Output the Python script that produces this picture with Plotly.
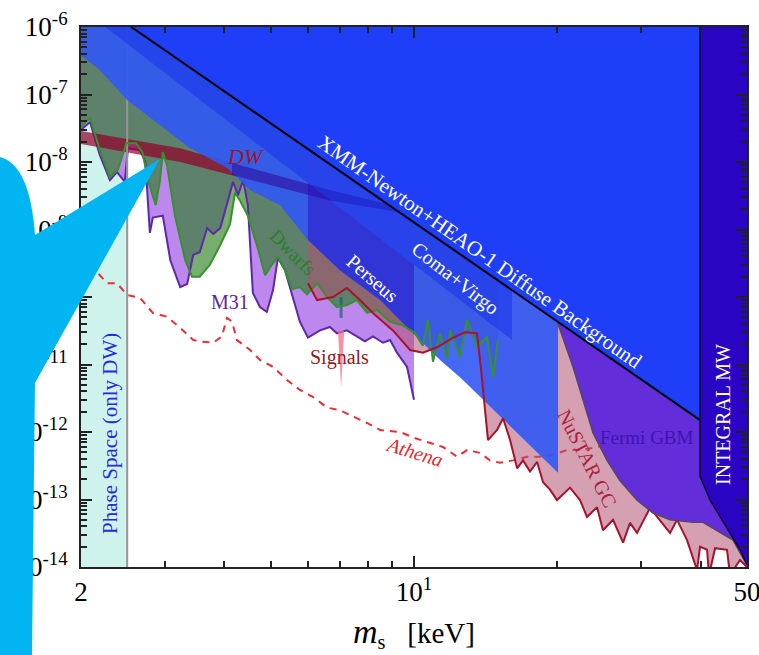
import math
import plotly.graph_objects as go

# ---------------- data: sterile-neutrino mass m_s [keV] vs mixing sin^2(2θ) ----------------
phase_space_edge = 2.5

athena_m = [2.0, 2.16, 2.27, 2.38, 2.50, 2.66, 2.83, 3.03, 3.23, 3.44, 3.55, 3.79, 3.95, 4.05, 4.15,
            4.25, 4.53, 4.75, 5.06, 5.41, 5.76, 6.14, 6.57, 6.99, 7.45, 7.97, 8.49, 9.35, 10.0, 10.8,
            11.5, 12.31, 12.92, 13.76, 14.43, 15.15, 16.14, 17.27, 18.39, 19.58, 20.95, 22.31, 23.76, 25.17]
athena_mix = [4.2e-10, 2.3e-10, 1.6e-10, 1.6e-10, 1.07e-10, 9.7e-11, 5.8e-11, 5.1e-11, 3.5e-11, 2.3e-11,
              2.2e-11, 2.1e-11, 2.6e-11, 4.9e-11, 4.3e-11, 2.3e-11, 1.64e-11, 1.17e-11, 9.2e-12, 5.9e-12,
              4.2e-12, 3.3e-12, 2.3e-12, 2.1e-12, 1.7e-12, 1.36e-12, 1.07e-12, 1.0e-12, 8.2e-13, 6.9e-13,
              6.0e-13, 4.3e-13, 5.4e-13, 4.9e-13, 3.8e-13, 3.5e-13, 3.8e-13, 4.3e-13, 4.3e-13, 4.6e-13,
              5.4e-13, 5.4e-13, 5.8e-13, 6.4e-13]

m31_m = [2.0, 2.09, 2.19, 2.30, 2.38, 2.47, 2.51, 2.66, 2.73, 2.79, 2.83, 2.97, 3.08, 3.23, 3.34,
         3.44, 3.55, 3.68, 3.79, 3.92, 4.07, 4.17, 4.27, 4.38, 4.48, 4.59, 4.75, 4.91, 5.06, 5.18,
         5.36, 5.55, 5.76, 5.99, 6.35, 6.66, 6.89, 7.23, 7.59, 7.89, 8.20, 8.61, 8.91, 9.21, 9.67, 10.0]
m31_mix = [3.0e-8, 3.9e-8, 1.27e-8, 5.4e-9, 7.1e-9, 5.1e-9, 1.6e-8, 1.5e-8, 1.0e-8, 8.9e-10,
           1.5e-9, 1.6e-9, 3.5e-10, 1.4e-10, 1.56e-10, 4.2e-10, 4.6e-10, 1.05e-9, 8.6e-10, 1.05e-9,
           2.7e-9, 5.1e-9, 3.2e-9, 5.4e-9, 2.3e-9, 1.15e-10, 7.1e-11, 6.0e-11, 1.27e-10, 3.8e-10,
           2.5e-10, 1.07e-10, 4.3e-11, 2.5e-11, 3.2e-11, 3.6e-11, 2.9e-11, 3.2e-11, 2.6e-11, 2.2e-11,
           2.6e-11, 2.1e-11, 2.3e-11, 1.5e-11, 9.2e-12, 3.0e-12]

dwarfs_m = [2.0, 2.09, 2.19, 2.30, 2.39, 2.49, 2.61, 2.69, 2.77, 2.87, 2.93, 2.97, 3.03, 3.15, 3.31,
            3.42, 3.55, 3.73, 3.92, 4.11, 4.21, 4.31, 4.48, 4.71, 4.87, 5.03, 5.18, 5.36, 5.55, 5.76,
            5.96, 6.26, 6.57, 6.89, 7.23, 7.59, 7.97, 8.36, 8.91, 9.48, 10.05, 10.44, 10.70, 10.96, 11.34,
            11.73, 11.90, 12.49, 12.92, 13.56, 14.23, 14.65, 15.0]
dwarfs_mix = [3.3e-8, 4.5e-8, 1.5e-8, 6.0e-9, 7.6e-9, 1.9e-8, 1.9e-8, 1.4e-8, 5.1e-9, 2.3e-9,
              5.4e-9, 1.4e-8, 9.0e-9, 1.6e-9, 3.5e-10, 2.0e-10, 2.0e-10, 3.0e-10, 5.9e-10, 1.2e-9,
              3.5e-9, 2.7e-9, 1.6e-9, 5.0e-10, 2.1e-10, 3.0e-10, 3.9e-10, 2.5e-10, 1.3e-10, 1.4e-10,
              1.1e-10, 1.6e-10, 1.0e-10, 7.1e-11, 7.6e-11, 9.0e-11, 5.8e-11, 6.4e-11, 4.3e-11, 3.8e-11,
              2.9e-11, 1.9e-11, 4.6e-11, 1.1e-11, 2.9e-11, 1.2e-11, 3.2e-11, 1.3e-11, 4.6e-11, 1.8e-11,
              2.6e-11, 6.5e-12, 2.3e-11]

nustar_m = [5.99, 6.26, 6.76, 7.23, 7.70, 8.20, 9.03, 9.81, 10.44, 11.18, 12.08, 12.80, 13.56, 13.83,
            14.30, 14.94, 15.38, 15.91, 16.46, 16.94, 17.52, 18.13, 18.66, 19.30, 19.96, 21.26, 22.31,
            23.08, 24.22, 24.93, 26.17, 27.47, 28.41, 29.39, 31.29, 32.84, 34.47, 35.66, 37.42, 39.27,
            39.85, 41.22, 41.62, 42.85, 45.40, 46.06, 48.34, 50.0]
nustar_mix = [1.6e-10, 9.0e-11, 1.0e-10, 1.36e-10, 9.0e-11, 5.8e-11, 3.2e-11, 1.64e-11, 1.5e-11, 1.8e-11,
              2.5e-11, 3.0e-11, 2.9e-11, 8.3e-12, 7.6e-13, 1.07e-12, 1.6e-12, 7.6e-13, 2.9e-13, 3.8e-13,
              2.6e-13, 3.6e-13, 1.8e-13, 1.4e-13, 9.8e-14, 1.5e-13, 9.8e-14, 5.5e-14, 7.7e-14, 3.5e-14,
              5.0e-14, 2.3e-14, 4.5e-14, 3.2e-14, 7.5e-14, 5.0e-14, 3.2e-14, 5.0e-14, 2.5e-14, 9.0e-15,
              2.0e-14, 1.8e-14, 7.6e-15, 1.9e-14, 1.8e-14, 7.6e-15, 1.27e-14, 1.0e-14]

# Dodelson-Widrow production band
dw_m = [2.0, 3.23, 4.15, 6.66, 10.3]
dw_upper = [2.88e-8, 1.6e-8, 9.7e-9, 3.85e-9, 1.8e-9]
dw_lower = [1.85e-8, 1.0e-8, 6.4e-9, 2.7e-9, 1.6e-9]

# stacked X-ray bound (unlabelled light-blue region)
stacked_m = [2.0, 2.19, 2.50, 2.93, 3.39, 4.05, 4.53, 5.23, 5.99, 6.99, 8.49, 9.95, 11.34, 12.49, 20.06]
stacked_mix = [3.8e-7, 2.3e-7, 8.3e-8, 3.5e-8, 1.6e-8, 8.2e-9, 3.85e-9, 2.3e-9, 7.0e-10, 2.5e-10,
               9.0e-11, 2.9e-11, 1.17e-11, 6.5e-12, 2.5e-13]

xmm_m = [2.55, 39.85]
xmm_mix = [1.0e-6, 1.5e-12]

coma_virgo_m = [2.25, 16.06]
coma_virgo_lower = [1.0e-6, 2.3e-11]

perseus_m = [5.99, 10.0, 10.0, 8.49, 6.99, 5.99]
perseus_mix = [4.9e-9, 3.0e-10, 2.8e-11, 9.0e-11, 2.5e-10, 7.0e-10]

fermi_m = [19.96, 20.75, 21.57, 22.63, 23.76, 25.42, 27.07, 29.39, 31.75, 34.47, 38.52, 40.44, 43.26, 46.73, 50.0]
fermi_mix = [4.4e-11, 1.94e-11, 9.2e-12, 3.0e-12, 9.7e-13, 3.8e-13, 1.9e-13, 9.8e-14, 6.3e-14, 5.0e-14,
             4.6e-14, 4.6e-14, 3.5e-14, 2.5e-14, 1.07e-14]

integral_m = [39.85, 39.85, 41.82, 43.89, 46.06, 48.34, 50.0]
integral_mix = [1.0e-6, 2.2e-13, 9.8e-14, 5.5e-14, 3.2e-14, 1.8e-14, 1.07e-14]

signal_m = 7.03
signal_mix = [3.2e-11, 4.5e-12]
signal_core = [1.0e-10, 4.9e-11]

x_min, x_max = 2.0, 50.0
y_min, y_max = 1e-14, 1e-6

SERIF = "Liberation Serif"

fig = go.Figure()


def region(xs, ys, fill, line_color=None, line_width=0):
    fig.add_trace(go.Scatter(
        x=xs, y=ys, mode="lines", fill="toself", fillcolor=fill,
        line=dict(color=line_color or "rgba(0,0,0,0)", width=line_width),
        hoverinfo="skip", showlegend=False))


def curve(xs, ys, color, width=2, dash=None):
    fig.add_trace(go.Scatter(
        x=xs, y=ys, mode="lines", line=dict(color=color, width=width, dash=dash),
        hoverinfo="skip", showlegend=False))


# phase-space (Tremaine-Gunn) exclusion
region([x_min, phase_space_edge, phase_space_edge, x_min], [y_min, y_min, y_max, y_max],
       "rgb(206,242,236)")

# Athena sensitivity
curve(athena_m, athena_mix, "rgb(236,45,55)", 2, "7px,6px")

# M31, dwarfs and NuSTAR exclusions (filled above each bound)
region(m31_m + [m31_m[-1], x_min], m31_mix + [y_max, y_max], "rgb(188,136,238)")
region(dwarfs_m + [dwarfs_m[-1], x_min], dwarfs_mix + [y_max, y_max], "rgba(35,125,25,0.62)")
region(nustar_m + [x_max, nustar_m[0]], nustar_mix + [y_max, y_max], "rgba(177,82,115,0.55)")
curve(m31_m, m31_mix, "rgb(95,40,170)", 2)

# 3.5 keV line signals
sig_x = [signal_m * 0.985, signal_m * 1.015, signal_m]
sig_y = [signal_mix[0], signal_mix[0], signal_mix[1]]
region(sig_x, sig_y, "rgba(240,110,140,0.75)")
curve([signal_m, signal_m], signal_core, "rgba(30,95,115,0.7)", 3)

# DW band
region(dw_m + dw_m[::-1], dw_upper + dw_lower[::-1], "rgba(150,0,40,0.7)")

# phase-space edge
curve([phase_space_edge, phase_space_edge], [y_min, y_max], "rgb(150,150,150)", 2)

# stacked X-ray region
region(stacked_m + [stacked_m[-1], x_min], stacked_mix + [y_max, y_max], "rgba(49,88,244,0.9)")

# DW band seen through the blue region
region(dw_m[2:] + dw_m[2:][::-1], dw_upper[2:] + dw_lower[2:][::-1], "rgba(40,0,140,0.45)")

# Coma+Virgo
region([coma_virgo_m[0], coma_virgo_m[1], coma_virgo_m[1]],
       [coma_virgo_lower[0], y_max, coma_virgo_lower[1]], "rgba(20,45,235,0.5)")

# Perseus
region(perseus_m, perseus_mix, "rgba(40,0,190,0.4)")

# dwarfs and NuSTAR bound lines drawn on top
curve(dwarfs_m, dwarfs_mix, "rgb(55,145,45)", 2)
curve(nustar_m, nustar_mix, "rgb(165,20,45)", 2)

# Fermi GBM
region(fermi_m + [x_max, fermi_m[0]], fermi_mix + [y_max, y_max], "rgb(100,45,218)")
curve(fermi_m, fermi_mix, "rgb(85,70,100)", 1.5)

# XMM-Newton + HEAO-1 diffuse background
region([xmm_m[0], xmm_m[1], xmm_m[1]], [xmm_mix[0], y_max, xmm_mix[1]], "rgb(30,62,248)")
curve(xmm_m, xmm_mix, "black", 2)

# INTEGRAL MW
region(integral_m + [x_max], integral_mix + [y_max], "rgb(42,5,195)")
curve(integral_m, integral_mix, "rgb(20,10,40)", 1.5)

# ---------------- labels ----------------
labels = [
    dict(text="XMM-Newton+HEAO-1 Diffuse Background", m=13.76, mix=4.64e-10, angle=35, color="white", size=21),
    dict(text="Coma+Virgo", m=12.2, mix=1.85e-10, angle=38, color="white", size=20),
    dict(text="Perseus", m=8.17, mix=1.9e-10, angle=41, color="white", size=20),
    dict(text="Dwarfs", m=5.57, mix=4.6e-10, angle=45, color="rgb(45,125,45)", size=19),
    dict(text="<i>DW</i>", m=4.42, mix=1.19e-8, angle=0, color="rgb(160,20,40)", size=22),
    dict(text="M31", m=4.11, mix=8.4e-11, angle=0, color="rgb(95,35,170)", size=20),
    dict(text="Signals", m=6.99, mix=1.29e-11, angle=0, color="rgb(145,25,35)", size=20),
    dict(text="<i>Athena</i>", m=10.03, mix=5.06e-13, angle=17, color="rgb(232,40,50)", size=20),
    dict(text="NuSTAR GC", m=23.08, mix=4.12e-13, angle=63, color="rgb(175,30,60)", size=20),
    dict(text="Fermi GBM", m=30.84, mix=8.43e-13, angle=0, color="rgb(65,20,175)", size=19),
    dict(text="INTEGRAL MW", m=44.53, mix=1.79e-12, angle=-90, color="white", size=20),
    dict(text="Phase Space (only DW)", m=2.30, mix=9.66e-13, angle=-90, color="rgb(40,40,225)", size=21),
]
for lab in labels:
    fig.add_annotation(
        x=math.log10(lab["m"]), y=math.log10(lab["mix"]), xref="x", yref="y",
        text=lab["text"], showarrow=False, textangle=lab["angle"],
        xanchor="center", yanchor="middle",
        font=dict(family=SERIF, size=lab["size"], color=lab["color"]))

# x-axis title
fig.add_annotation(x=0.5, y=-0.122, xref="paper", yref="paper", showarrow=False,
                   text="<span style='font-size:34px'><i>m</i></span><sub>s</sub>&nbsp;&nbsp;&nbsp;[keV]",
                   xanchor="center", yanchor="middle",
                   font=dict(family=SERIF, size=29, color="black"))

# callout bubble over the left edge
W_PLOT, H_PLOT, L0, T0 = 666.0, 540.0, 81.0, 27.0


def px(xp, yp):
    return (xp - L0) / W_PLOT, (T0 + H_PLOT - yp) / H_PLOT


pts = {k: px(*v) for k, v in dict(a=(0, 157), c=(30, 165), b=(35, 235), tip=(160, 159),
                                    d=(35, 383), e=(32, 655), f=(0, 655)).items()}
path = ("M {a[0]:.4f},{a[1]:.4f} Q {c[0]:.4f},{c[1]:.4f} {b[0]:.4f},{b[1]:.4f} "
        "L {tip[0]:.4f},{tip[1]:.4f} L {d[0]:.4f},{d[1]:.4f} L {e[0]:.4f},{e[1]:.4f} "
        "L {f[0]:.4f},{f[1]:.4f} Z").format(**pts)
fig.add_shape(type="path", path=path, xref="paper", yref="paper", layer="above",
              fillcolor="rgb(0,181,241)", line=dict(width=0))

# ---------------- axes ----------------
x_ticks = [2, 10, 50]
x_ticktext = ["2", "10<sup>1</sup>", "50"]
x_minor = [3, 4, 5, 6, 7, 8, 9, 20, 30, 40]
y_exps = list(range(-14, -5))
y_ticks = [10.0 ** e for e in y_exps]
y_ticktext = ["10<sup>%d</sup>" % e for e in y_exps]
y_minor = [k * 10.0 ** e for e in range(-14, -6) for k in range(2, 10)]

axis_common = dict(type="log", showgrid=False, zeroline=False, showline=True, linecolor="#222",
                   linewidth=2, mirror="allticks", ticks="inside", ticklen=11, tickwidth=1.5,
                   tickcolor="#222", automargin=False, ticklabeloverflow="allow",
                   tickfont=dict(family=SERIF, size=27, color="black"))

fig.update_xaxes(range=[math.log10(x_min), math.log10(x_max)], tickvals=x_ticks, ticktext=x_ticktext,
                 minor=dict(tickvals=x_minor, ticks="inside", ticklen=6, tickcolor="#222", showgrid=False),
                 **axis_common)
fig.update_yaxes(range=[math.log10(y_min), math.log10(y_max)], tickvals=y_ticks, ticktext=y_ticktext,
                 minor=dict(tickvals=y_minor, ticks="inside", ticklen=6, tickcolor="#222", showgrid=False),
                 ticklabelstandoff=6, **axis_common)

fig.update_layout(width=759, height=655, margin=dict(l=81, r=12, t=27, b=88, autoexpand=False),
                  plot_bgcolor="white", paper_bgcolor="white", showlegend=False)

fig.write_html("out.html")
